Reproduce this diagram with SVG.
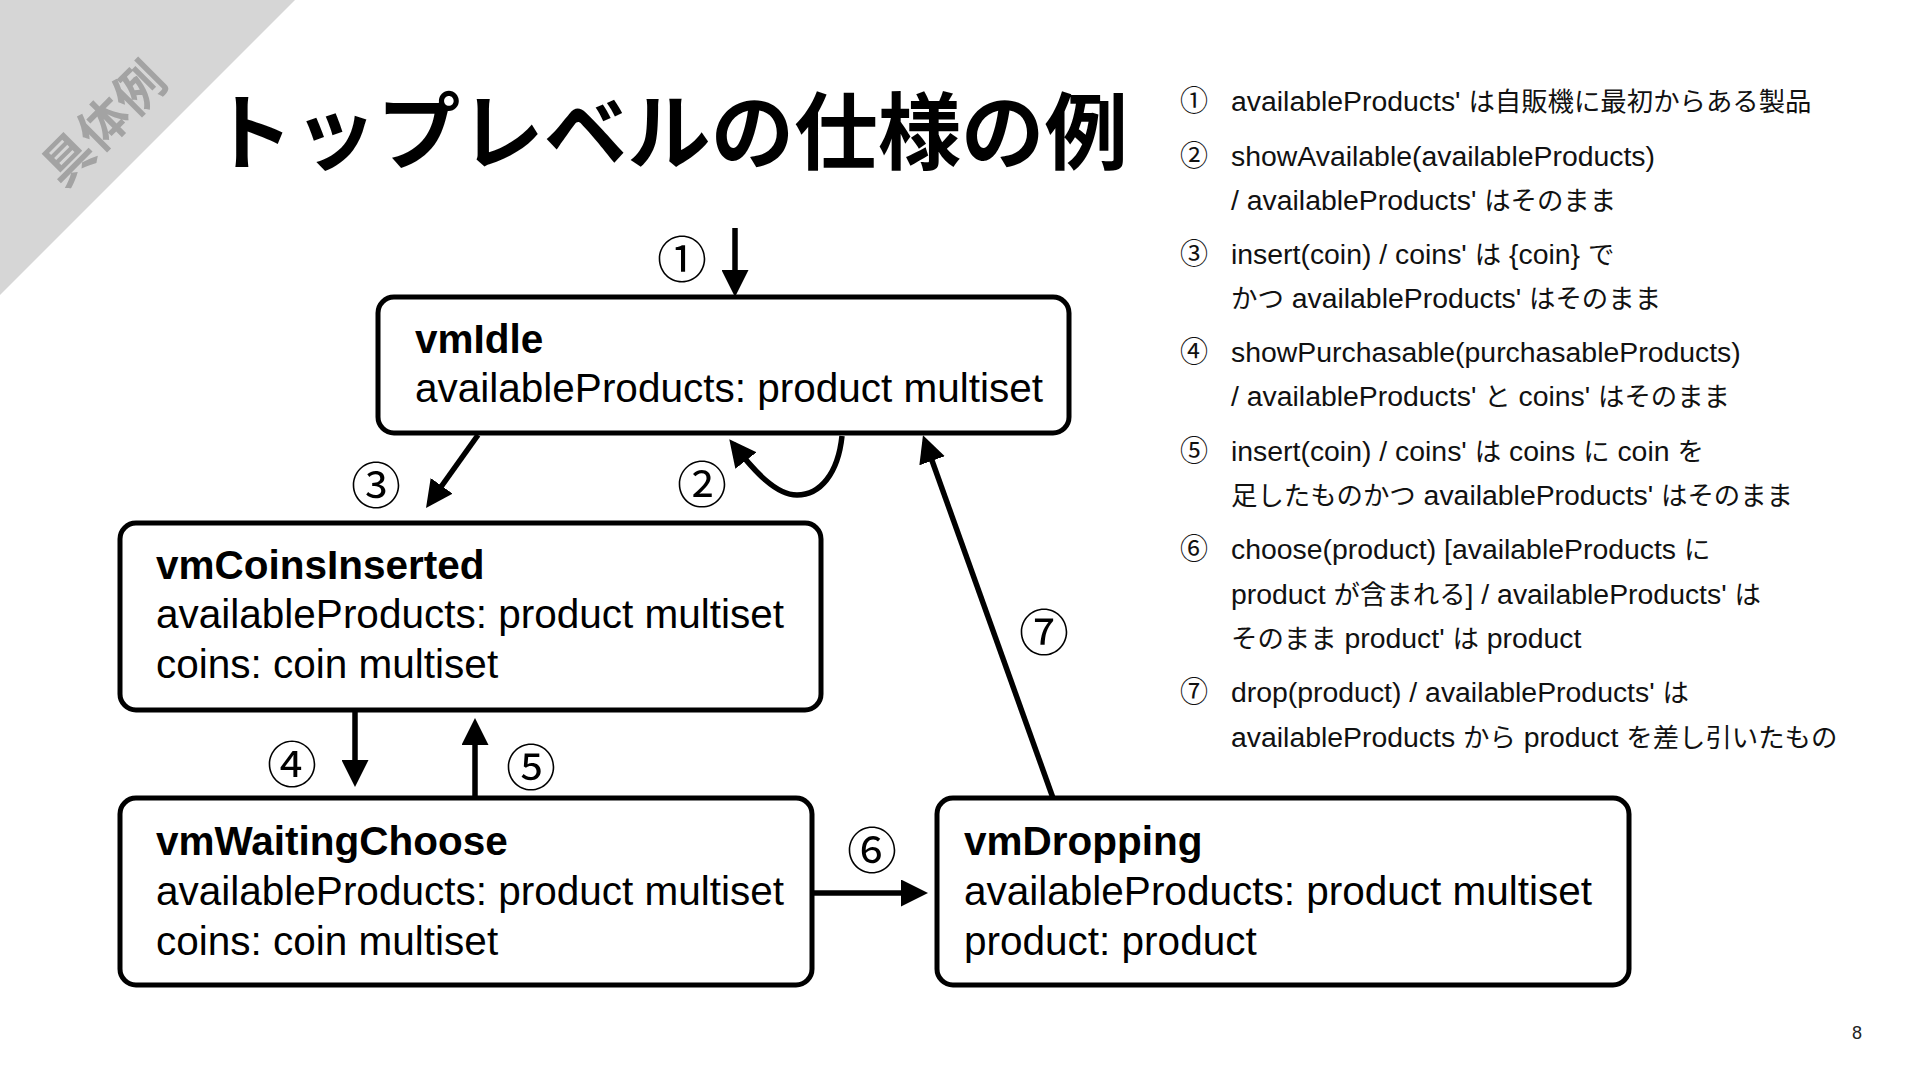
<svg xmlns="http://www.w3.org/2000/svg" width="1920" height="1080" viewBox="0 0 1920 1080">
<defs>
<style>
.node rect{fill:#fff;stroke:#000;stroke-width:5}
.nt{font-family:"Liberation Sans","Noto Sans CJK JP",sans-serif;font-size:40.5px;fill:#000}
.b{font-weight:bold}
.conn path{fill:none;stroke:#000;stroke-width:5.5}
.lbl{font-family:"Noto Sans CJK JP",sans-serif;font-size:50px;fill:#000;text-anchor:middle;dominant-baseline:central}
.li{font-family:"Liberation Sans","Noto Sans CJK JP",sans-serif;font-size:28.4px;fill:#111}
.j{font-family:"Noto Sans CJK JP",sans-serif;font-size:26.4px}
.ln{font-family:"Noto Sans CJK JP",sans-serif;font-size:28px;fill:#111;text-anchor:middle}
</style>
<marker id="ah" markerUnits="userSpaceOnUse" markerWidth="27" markerHeight="27" viewBox="0 0 27 27" refX="21" refY="13.5" orient="auto">
<path d="M0,0 L27,13.5 L0,27 z" fill="#000"/>
</marker>
</defs>
<rect width="1920" height="1080" fill="#fff"/>
<g id="corner">
<polygon points="0,0 295,0 0,295" fill="#d6d6d6"/>
<text x="101" y="121" transform="rotate(-45 101 121)" text-anchor="middle" dominant-baseline="central" font-family="Noto Sans CJK JP, sans-serif" font-size="50" font-weight="bold" fill="#a3a3a3">具体例</text>
</g>
<text id="title" x="210" y="163" font-family="Noto Sans CJK JP, sans-serif" font-size="84" font-weight="bold" fill="#000" textLength="918" lengthAdjust="spacingAndGlyphs">トップレベルの仕様の例</text>

<g id="connectors" class="conn">
<path d="M735,228 L735,291" marker-end="url(#ah)"/>
<path d="M478,435 L429.5,503" marker-end="url(#ah)"/>
<path d="M842,436 C838,474 820,495 797,495 C776,495 755,472 733,444" marker-end="url(#ah)"/>
<path d="M355,710 L355,781" marker-end="url(#ah)"/>
<path d="M475,798 L475,724" marker-end="url(#ah)"/>
<path d="M812,893 L922,893" marker-end="url(#ah)"/>
<path d="M1053,798 L925,441" marker-end="url(#ah)"/>
</g>
<g id="connector-labels">
<text class="lbl" x="682" y="256">①</text>
<text class="lbl" x="702" y="481">②</text>
<text class="lbl" x="376" y="482">③</text>
<text class="lbl" x="292" y="761">④</text>
<text class="lbl" x="531" y="764">⑤</text>
<text class="lbl" x="872" y="847">⑥</text>
<text class="lbl" x="1044" y="629">⑦</text>
</g>

<g id="vmIdle" class="node">
<rect x="378" y="297" width="691" height="136" rx="16"/>
<text class="nt b" x="415" y="353">vmIdle</text>
<text class="nt" x="415" y="402">availableProducts: product multiset</text>
</g>
<g id="vmCoinsInserted" class="node">
<rect x="120" y="523" width="701" height="187" rx="16"/>
<text class="nt b" x="156" y="579">vmCoinsInserted</text>
<text class="nt" x="156" y="628">availableProducts: product multiset</text>
<text class="nt" x="156" y="678">coins: coin multiset</text>
</g>
<g id="vmWaitingChoose" class="node">
<rect x="120" y="798" width="692" height="187" rx="16"/>
<text class="nt b" x="156" y="855">vmWaitingChoose</text>
<text class="nt" x="156" y="905">availableProducts: product multiset</text>
<text class="nt" x="156" y="955">coins: coin multiset</text>
</g>
<g id="vmDropping" class="node">
<rect x="937" y="798" width="692" height="187" rx="16"/>
<text class="nt b" x="964" y="855">vmDropping</text>
<text class="nt" x="964" y="905">availableProducts: product multiset</text>
<text class="nt" x="964" y="955">product: product</text>
</g>

<g id="legend">
<text class="ln" x="1194" y="111">①</text>
<text class="li" x="1231" y="111">availableProducts' <tspan class="j">は自販機に最初からある製品</tspan></text>
<text class="ln" x="1194" y="166">②</text>
<text class="li" x="1231" y="166">showAvailable(availableProducts)</text>
<text class="li" x="1231" y="210">/ availableProducts' <tspan class="j">はそのまま</tspan></text>
<text class="ln" x="1194" y="264">③</text>
<text class="li" x="1231" y="264">insert(coin) / coins' <tspan class="j">は</tspan> {coin} <tspan class="j">で</tspan></text>
<text class="li" x="1231" y="308"><tspan class="j">かつ</tspan> availableProducts' <tspan class="j">はそのまま</tspan></text>
<text class="ln" x="1194" y="362">④</text>
<text class="li" x="1231" y="362">showPurchasable(purchasableProducts)</text>
<text class="li" x="1231" y="406">/ availableProducts' <tspan class="j">と</tspan> coins' <tspan class="j">はそのまま</tspan></text>
<text class="ln" x="1194" y="461">⑤</text>
<text class="li" x="1231" y="461">insert(coin) / coins' <tspan class="j">は</tspan> coins <tspan class="j">に</tspan> coin <tspan class="j">を</tspan></text>
<text class="li" x="1231" y="505"><tspan class="j">足したものかつ</tspan> availableProducts' <tspan class="j">はそのまま</tspan></text>
<text class="ln" x="1194" y="559">⑥</text>
<text class="li" x="1231" y="559">choose(product) [availableProducts <tspan class="j">に</tspan></text>
<text class="li" x="1231" y="604">product <tspan class="j">が含まれる</tspan>] / availableProducts' <tspan class="j">は</tspan></text>
<text class="li" x="1231" y="648"><tspan class="j">そのまま</tspan> product' <tspan class="j">は</tspan> product</text>
<text class="ln" x="1194" y="702">⑦</text>
<text class="li" x="1231" y="702">drop(product) / availableProducts' <tspan class="j">は</tspan></text>
<text class="li" x="1231" y="747">availableProducts <tspan class="j">から</tspan> product <tspan class="j">を差し引いたもの</tspan></text>
</g>
<text id="page" x="1857" y="1039" text-anchor="middle" font-family="Liberation Sans, sans-serif" font-size="18" fill="#222">8</text>
</svg>
